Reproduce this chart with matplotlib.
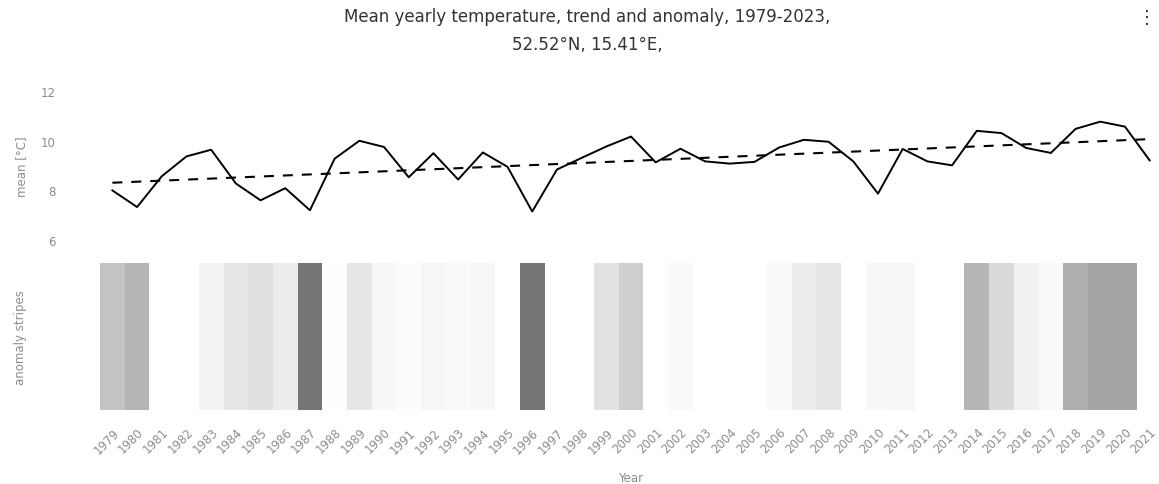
import numpy as np
import matplotlib
matplotlib.use('Agg')
from matplotlib import pyplot as plt

# yearly mean temperature
years = list(range(1979, 2022))
temp_mean = [8.00, 7.33, 8.57, 9.37, 9.64, 8.28, 7.60, 8.09, 7.20, 9.28,
             10.00, 9.75, 8.53, 9.50, 8.44, 9.53, 8.95, 7.15, 8.84, 9.31,
             9.77, 10.17, 9.13, 9.68, 9.17, 9.08, 9.15, 9.73, 10.04, 9.96,
             9.17, 7.87, 9.67, 9.17, 9.01, 10.40, 10.31, 9.71, 9.51, 10.48,
             10.77, 10.57, 9.21]

# stripe intensity (0 = white, 1 = black) read from the grey stripes
stripe_shade = [0.35, 0.40, 0.00, 0.00, 0.10, 0.18, 0.22, 0.15, 0.62, 0.02,
                0.18, 0.07, 0.03, 0.08, 0.05, 0.07, 0.00, 0.62, 0.00, 0.00,
                0.20, 0.30, 0.00, 0.05, 0.00, 0.00, 0.00, 0.05, 0.15, 0.18,
                0.00, 0.07, 0.08, 0.00, 0.00, 0.40, 0.25, 0.12, 0.04, 0.42,
                0.45, 0.45, 0.00]

title_1 = 'Mean yearly temperature, trend and anomaly, 1979-2023,'
title_2 = '52.52°N, 15.41°E,'

grey_txt = '#8c8c8c'

fig = plt.figure(figsize=(11.59, 4.85), dpi=100)
ax1 = fig.add_axes([0.0863, 0.503, 0.9163, 0.307])
ax2 = fig.add_axes([0.0863, 0.1526, 0.9163, 0.303], sharex=ax1)

x = np.array(years)
y = np.array(temp_mean)
k, b = np.polyfit(x, y, 1)

ax1.plot(x, y, color='black', lw=1.4)
ax1.plot(x, k * x + b, color='black', lw=1.5, dashes=(4.8, 4.3))
ax1.set_ylim(6, 12)
ax1.set_yticks([6, 8, 10, 12])
ax1.set_xlim(years[0] - 0.5, years[-1] + 0.5)
ax1.tick_params(axis='y', length=0, pad=32, labelsize=8.5, labelcolor=grey_txt)
ax1.tick_params(axis='x', length=0, labelbottom=False)
ax1.set_ylabel('mean [°C]', color=grey_txt, fontsize=8.5)
ax1.yaxis.set_label_coords(-0.068, 0.5)
for s in ax1.spines.values():
    s.set_visible(False)

edges = np.append(x - 0.5, x[-1] + 0.5)
ax2.pcolormesh(edges, [0, 1], np.array([stripe_shade]), cmap='Greys', vmin=0, vmax=1)
ax2.set_ylim(0, 1)
ax2.set_yticks([])
ax2.set_xticks(years)
ax2.set_xticklabels([str(v) for v in years], rotation=45, ha='right',
                    rotation_mode='anchor', fontsize=8.5, color=grey_txt)
ax2.tick_params(axis='x', length=0, pad=11)
ax2.set_xlabel('Year', color=grey_txt, fontsize=8.5, labelpad=11)
ax2.set_ylabel('anomaly stripes', color=grey_txt, fontsize=8.5)
ax2.yaxis.set_label_coords(-0.069, 0.5)
for s in ax2.spines.values():
    s.set_visible(False)

fig.text(0.507, 1 - 17 / 485, title_1, ha='center', va='center', fontsize=12, color='#333333')
fig.text(0.507, 1 - 45 / 485, title_2, ha='center', va='center', fontsize=12, color='#333333')
fig.text(0.99, 1 - 18 / 485, '⋮', ha='center', va='center', fontsize=13, color='#333333')

plt.savefig('out.png', dpi=100)
plt.close()
